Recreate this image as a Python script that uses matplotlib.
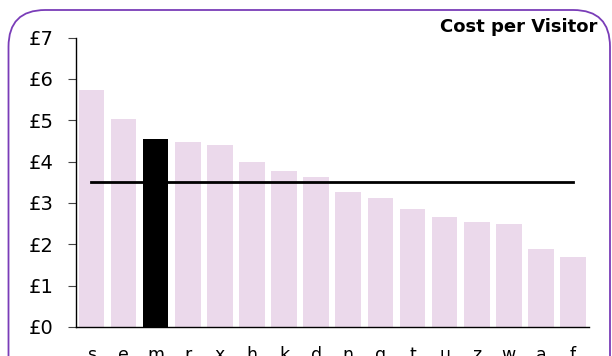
import matplotlib
matplotlib.use("Agg")
import matplotlib.pyplot as plt
from matplotlib.patches import FancyBboxPatch

# data
labels = ["s", "e", "m", "r", "x", "h", "k", "d", "n", "g", "t", "u", "z", "w", "a", "f"]
cost = [5.73, 5.02, 4.55, 4.47, 4.40, 3.98, 3.76, 3.62, 3.27, 3.12, 2.85, 2.66, 2.54, 2.49, 1.89, 1.69]
highlight = "m"
average = 3.50
yticks = [0, 1, 2, 3, 4, 5, 6, 7]
ytick_labels = ["£" + str(v) for v in yticks]

plt.rcParams["font.family"] = ["DejaVu Sans"]

fig = plt.figure(figsize=(6.12, 3.56), dpi=100)
ax = fig.add_axes([76 / 612, 1 - 327 / 356, (588.5 - 76) / 612, (327 - 37.5) / 356])

# rounded purple frame round the whole chart
frame = FancyBboxPatch((8.5 / 612, -0.2), (610 - 8.5) / 612, 1.2 - 10 / 356,
                       boxstyle="round,pad=0,rounding_size=0.06",
                       transform=fig.transFigure, fill=False,
                       edgecolor="#7a3db8", linewidth=1.3, clip_on=False,
                       mutation_aspect=612 / 356)
fig.patches.append(frame)

x = range(len(labels))
colors = ["black" if l == highlight else "#ebd9eb" for l in labels]
ax.bar(x, cost, width=0.8, color=colors, zorder=2)
ax.plot([0, len(labels) - 1], [average, average], color="black", linewidth=2, zorder=3)

ax.set_xlim(-0.48, len(labels) - 0.52)
ax.set_ylim(0, 7)
ax.set_yticks(yticks)
ax.set_yticklabels(ytick_labels, fontsize=14)
ax.set_xticks(list(x))
ax.set_xticklabels(labels, fontsize=12.5)
ax.tick_params(axis="x", length=0, pad=14)
ax.tick_params(axis="y", length=6, width=0.8, pad=10, color="#444444")

for side in ["top", "right"]:
    ax.spines[side].set_visible(False)
ax.spines["left"].set_linewidth(1)
ax.spines["bottom"].set_linewidth(1)

fig.text(597 / 612, 1 - 27 / 356, "Cost per Visitor", ha="right", va="center",
         fontsize=13, fontweight="bold")

fig.savefig("out.png", dpi=100)
